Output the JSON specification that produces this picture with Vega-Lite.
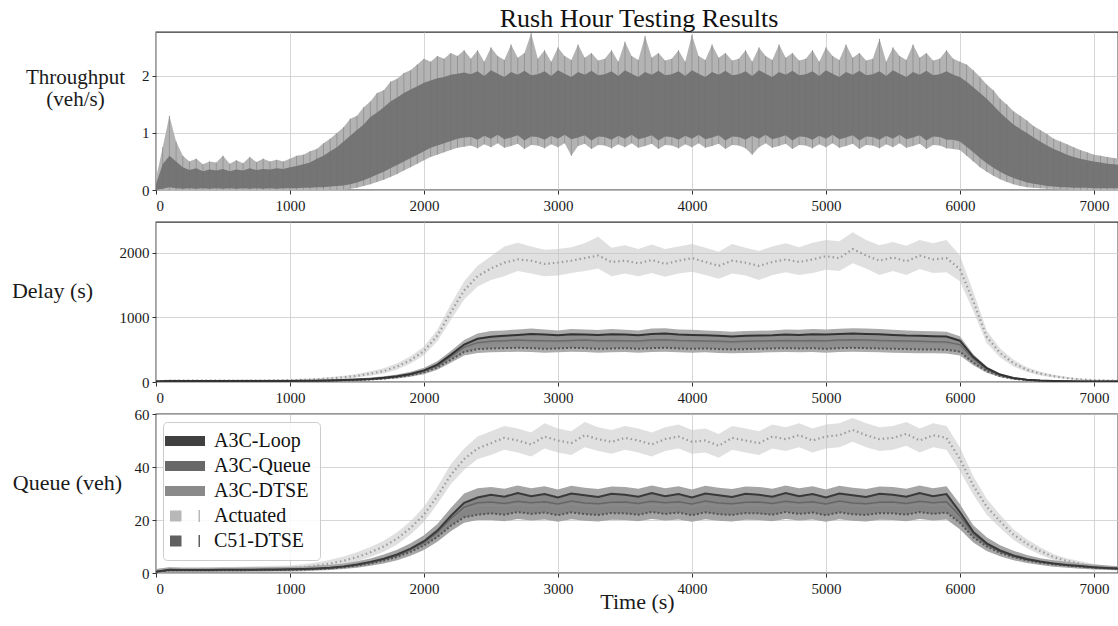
{
  "$schema": "https://vega.github.io/schema/vega-lite/v6.json",
  "padding": {"left": 10, "top": 6, "right": 0, "bottom": 5},
  "title": {"text": "Rush Hour Testing Results", "font": "Liberation Serif", "fontSize": 26, "fontWeight": "normal", "color": "#111111", "anchor": "middle", "frame": "group", "offset": -1, "dx": 2},
  "bounds": "flush",
  "spacing": 32,
  "datasets": {
    "thr": [
      {"t":0,"a":0,"b":0,"c":0.1,"d":0.2},
      {"t":50,"a":0,"b":0.02,"c":0.45,"d":0.75},
      {"t":100,"a":0,"b":0.05,"c":0.6,"d":1.3},
      {"t":150,"a":0,"b":0.03,"c":0.5,"d":0.85},
      {"t":200,"a":0,"b":0.02,"c":0.4,"d":0.6},
      {"t":250,"a":0,"b":0.03,"c":0.35,"d":0.5},
      {"t":300,"a":0,"b":0.02,"c":0.38,"d":0.55},
      {"t":350,"a":0,"b":0.03,"c":0.33,"d":0.45},
      {"t":400,"a":0,"b":0.02,"c":0.36,"d":0.5},
      {"t":450,"a":0,"b":0.03,"c":0.34,"d":0.48},
      {"t":500,"a":0,"b":0.02,"c":0.37,"d":0.6},
      {"t":550,"a":0,"b":0.03,"c":0.33,"d":0.46},
      {"t":600,"a":0,"b":0.02,"c":0.36,"d":0.52},
      {"t":650,"a":0,"b":0.03,"c":0.34,"d":0.47},
      {"t":700,"a":0,"b":0.02,"c":0.38,"d":0.58},
      {"t":750,"a":0,"b":0.03,"c":0.35,"d":0.49},
      {"t":800,"a":0,"b":0.02,"c":0.37,"d":0.55},
      {"t":850,"a":0,"b":0.03,"c":0.36,"d":0.5},
      {"t":900,"a":0,"b":0.02,"c":0.38,"d":0.53},
      {"t":950,"a":0,"b":0.03,"c":0.37,"d":0.5},
      {"t":1000,"a":0,"b":0.03,"c":0.4,"d":0.55},
      {"t":1050,"a":0,"b":0.03,"c":0.42,"d":0.6},
      {"t":1100,"a":0,"b":0.04,"c":0.45,"d":0.62},
      {"t":1150,"a":0,"b":0.04,"c":0.48,"d":0.68},
      {"t":1200,"a":0,"b":0.05,"c":0.55,"d":0.72},
      {"t":1250,"a":0,"b":0.05,"c":0.6,"d":0.82},
      {"t":1300,"a":0,"b":0.06,"c":0.68,"d":0.9},
      {"t":1350,"a":0,"b":0.07,"c":0.75,"d":1.0},
      {"t":1400,"a":0,"b":0.08,"c":0.85,"d":1.1},
      {"t":1450,"a":0.02,"b":0.1,"c":0.95,"d":1.25},
      {"t":1500,"a":0.04,"b":0.13,"c":1.05,"d":1.3},
      {"t":1550,"a":0.07,"b":0.17,"c":1.15,"d":1.45},
      {"t":1600,"a":0.1,"b":0.22,"c":1.28,"d":1.55},
      {"t":1650,"a":0.14,"b":0.27,"c":1.36,"d":1.7},
      {"t":1700,"a":0.18,"b":0.32,"c":1.45,"d":1.75},
      {"t":1750,"a":0.23,"b":0.38,"c":1.55,"d":1.9},
      {"t":1800,"a":0.28,"b":0.44,"c":1.62,"d":1.95},
      {"t":1850,"a":0.34,"b":0.5,"c":1.7,"d":2.05},
      {"t":1900,"a":0.4,"b":0.56,"c":1.76,"d":2.1},
      {"t":1950,"a":0.46,"b":0.62,"c":1.82,"d":2.2},
      {"t":2000,"a":0.52,"b":0.68,"c":1.88,"d":2.3},
      {"t":2050,"a":0.58,"b":0.74,"c":1.92,"d":2.25},
      {"t":2100,"a":0.62,"b":0.78,"c":1.96,"d":2.35},
      {"t":2150,"a":0.66,"b":0.82,"c":1.98,"d":2.3},
      {"t":2200,"a":0.7,"b":0.86,"c":2.02,"d":2.4},
      {"t":2250,"a":0.74,"b":0.9,"c":2.04,"d":2.35},
      {"t":2300,"a":0.76,"b":0.92,"c":2.06,"d":2.45},
      {"t":2350,"a":0.78,"b":0.93,"c":2.03,"d":2.3},
      {"t":2400,"a":0.73,"b":0.88,"c":2.08,"d":2.45},
      {"t":2450,"a":0.8,"b":0.95,"c":2.0,"d":2.25},
      {"t":2500,"a":0.75,"b":0.9,"c":2.1,"d":2.5},
      {"t":2550,"a":0.82,"b":0.97,"c":2.04,"d":2.35},
      {"t":2600,"a":0.74,"b":0.89,"c":1.98,"d":2.28},
      {"t":2650,"a":0.77,"b":0.92,"c":2.07,"d":2.55},
      {"t":2700,"a":0.81,"b":0.96,"c":2.02,"d":2.32},
      {"t":2750,"a":0.72,"b":0.87,"c":2.09,"d":2.4},
      {"t":2800,"a":0.79,"b":0.94,"c":2.01,"d":2.75},
      {"t":2850,"a":0.78,"b":0.93,"c":2.03,"d":2.3},
      {"t":2900,"a":0.73,"b":0.88,"c":2.08,"d":2.45},
      {"t":2950,"a":0.8,"b":0.95,"c":2.0,"d":2.25},
      {"t":3000,"a":0.75,"b":0.9,"c":2.1,"d":2.5},
      {"t":3050,"a":0.82,"b":0.97,"c":2.04,"d":2.35},
      {"t":3100,"a":0.6,"b":0.89,"c":1.98,"d":2.28},
      {"t":3150,"a":0.77,"b":0.92,"c":2.07,"d":2.55},
      {"t":3200,"a":0.81,"b":0.96,"c":2.02,"d":2.32},
      {"t":3250,"a":0.72,"b":0.87,"c":2.09,"d":2.4},
      {"t":3300,"a":0.79,"b":0.94,"c":2.01,"d":2.27},
      {"t":3350,"a":0.78,"b":0.93,"c":2.03,"d":2.3},
      {"t":3400,"a":0.73,"b":0.88,"c":2.08,"d":2.45},
      {"t":3450,"a":0.8,"b":0.95,"c":2.0,"d":2.25},
      {"t":3500,"a":0.75,"b":0.9,"c":2.1,"d":2.6},
      {"t":3550,"a":0.82,"b":0.97,"c":2.04,"d":2.35},
      {"t":3600,"a":0.74,"b":0.89,"c":1.98,"d":2.28},
      {"t":3650,"a":0.77,"b":0.92,"c":2.07,"d":2.7},
      {"t":3700,"a":0.81,"b":0.96,"c":2.02,"d":2.32},
      {"t":3750,"a":0.72,"b":0.87,"c":2.09,"d":2.4},
      {"t":3800,"a":0.79,"b":0.94,"c":2.01,"d":2.27},
      {"t":3850,"a":0.78,"b":0.93,"c":2.03,"d":2.3},
      {"t":3900,"a":0.73,"b":0.88,"c":2.08,"d":2.45},
      {"t":3950,"a":0.8,"b":0.95,"c":2.0,"d":2.25},
      {"t":4000,"a":0.75,"b":0.9,"c":2.1,"d":2.72},
      {"t":4050,"a":0.82,"b":0.97,"c":2.04,"d":2.35},
      {"t":4100,"a":0.74,"b":0.89,"c":1.98,"d":2.28},
      {"t":4150,"a":0.77,"b":0.92,"c":2.07,"d":2.55},
      {"t":4200,"a":0.81,"b":0.96,"c":2.02,"d":2.32},
      {"t":4250,"a":0.72,"b":0.87,"c":2.09,"d":2.4},
      {"t":4300,"a":0.79,"b":0.94,"c":2.01,"d":2.27},
      {"t":4350,"a":0.78,"b":0.93,"c":2.03,"d":2.3},
      {"t":4400,"a":0.73,"b":0.88,"c":2.08,"d":2.45},
      {"t":4450,"a":0.62,"b":0.95,"c":2.0,"d":2.25},
      {"t":4500,"a":0.75,"b":0.9,"c":2.1,"d":2.5},
      {"t":4550,"a":0.82,"b":0.97,"c":2.04,"d":2.35},
      {"t":4600,"a":0.74,"b":0.89,"c":1.98,"d":2.28},
      {"t":4650,"a":0.77,"b":0.92,"c":2.07,"d":2.55},
      {"t":4700,"a":0.81,"b":0.96,"c":2.02,"d":2.32},
      {"t":4750,"a":0.72,"b":0.87,"c":2.09,"d":2.4},
      {"t":4800,"a":0.79,"b":0.94,"c":2.01,"d":2.27},
      {"t":4850,"a":0.78,"b":0.93,"c":2.03,"d":2.3},
      {"t":4900,"a":0.73,"b":0.88,"c":2.08,"d":2.45},
      {"t":4950,"a":0.8,"b":0.95,"c":2.0,"d":2.25},
      {"t":5000,"a":0.75,"b":0.9,"c":2.1,"d":2.5},
      {"t":5050,"a":0.82,"b":0.97,"c":2.04,"d":2.35},
      {"t":5100,"a":0.74,"b":0.89,"c":1.98,"d":2.28},
      {"t":5150,"a":0.77,"b":0.92,"c":2.07,"d":2.55},
      {"t":5200,"a":0.81,"b":0.96,"c":2.02,"d":2.32},
      {"t":5250,"a":0.72,"b":0.87,"c":2.09,"d":2.4},
      {"t":5300,"a":0.79,"b":0.94,"c":2.01,"d":2.27},
      {"t":5350,"a":0.78,"b":0.93,"c":2.03,"d":2.3},
      {"t":5400,"a":0.73,"b":0.88,"c":2.08,"d":2.65},
      {"t":5450,"a":0.8,"b":0.95,"c":2.0,"d":2.25},
      {"t":5500,"a":0.75,"b":0.9,"c":2.1,"d":2.5},
      {"t":5550,"a":0.82,"b":0.97,"c":2.04,"d":2.35},
      {"t":5600,"a":0.74,"b":0.89,"c":1.98,"d":2.28},
      {"t":5650,"a":0.77,"b":0.92,"c":2.07,"d":2.55},
      {"t":5700,"a":0.81,"b":0.96,"c":2.02,"d":2.32},
      {"t":5750,"a":0.72,"b":0.87,"c":2.09,"d":2.4},
      {"t":5800,"a":0.79,"b":0.94,"c":2.01,"d":2.27},
      {"t":5850,"a":0.78,"b":0.93,"c":2.03,"d":2.3},
      {"t":5900,"a":0.73,"b":0.88,"c":2.08,"d":2.45},
      {"t":5950,"a":0.72,"b":0.88,"c":2.02,"d":2.3},
      {"t":6000,"a":0.7,"b":0.85,"c":1.98,"d":2.25},
      {"t":6050,"a":0.6,"b":0.76,"c":1.9,"d":2.2},
      {"t":6100,"a":0.5,"b":0.66,"c":1.8,"d":2.1},
      {"t":6150,"a":0.4,"b":0.56,"c":1.7,"d":1.98},
      {"t":6200,"a":0.32,"b":0.47,"c":1.6,"d":1.85},
      {"t":6250,"a":0.25,"b":0.39,"c":1.48,"d":1.75},
      {"t":6300,"a":0.19,"b":0.32,"c":1.36,"d":1.6},
      {"t":6350,"a":0.14,"b":0.26,"c":1.25,"d":1.5},
      {"t":6400,"a":0.1,"b":0.21,"c":1.15,"d":1.38},
      {"t":6450,"a":0.07,"b":0.17,"c":1.07,"d":1.3},
      {"t":6500,"a":0.05,"b":0.13,"c":1.0,"d":1.22},
      {"t":6550,"a":0.04,"b":0.11,"c":0.92,"d":1.12},
      {"t":6600,"a":0.03,"b":0.09,"c":0.85,"d":1.05},
      {"t":6650,"a":0.02,"b":0.07,"c":0.78,"d":0.98},
      {"t":6700,"a":0.02,"b":0.06,"c":0.72,"d":0.9},
      {"t":6750,"a":0.01,"b":0.05,"c":0.67,"d":0.85},
      {"t":6800,"a":0.01,"b":0.05,"c":0.62,"d":0.8},
      {"t":6850,"a":0,"b":0.04,"c":0.58,"d":0.75},
      {"t":6900,"a":0,"b":0.04,"c":0.55,"d":0.7},
      {"t":6950,"a":0,"b":0.04,"c":0.52,"d":0.66},
      {"t":7000,"a":0,"b":0.03,"c":0.5,"d":0.62},
      {"t":7050,"a":0,"b":0.03,"c":0.48,"d":0.6},
      {"t":7100,"a":0,"b":0.03,"c":0.46,"d":0.58},
      {"t":7150,"a":0,"b":0.03,"c":0.45,"d":0.56},
      {"t":7200,"a":0,"b":0.03,"c":0.44,"d":0.55}
    ],
    "del": [
      {"t":0,"A":10,"Al":0,"Ah":25,"L":8,"Q":8,"D":8,"C":6,"gl":0,"gh":20},
      {"t":100,"A":20,"Al":8,"Ah":35,"L":15,"Q":15,"D":14,"C":13,"gl":5,"gh":28},
      {"t":200,"A":20,"Al":8,"Ah":35,"L":15,"Q":14,"D":14,"C":13,"gl":5,"gh":28},
      {"t":300,"A":20,"Al":8,"Ah":35,"L":14,"Q":14,"D":13,"C":12,"gl":5,"gh":27},
      {"t":400,"A":20,"Al":8,"Ah":35,"L":14,"Q":13,"D":13,"C":12,"gl":5,"gh":26},
      {"t":500,"A":20,"Al":8,"Ah":35,"L":14,"Q":14,"D":13,"C":12,"gl":5,"gh":26},
      {"t":600,"A":21,"Al":9,"Ah":36,"L":14,"Q":14,"D":13,"C":12,"gl":5,"gh":26},
      {"t":700,"A":22,"Al":10,"Ah":38,"L":15,"Q":14,"D":14,"C":13,"gl":5,"gh":27},
      {"t":800,"A":23,"Al":10,"Ah":40,"L":15,"Q":15,"D":14,"C":13,"gl":6,"gh":28},
      {"t":900,"A":25,"Al":12,"Ah":42,"L":16,"Q":15,"D":15,"C":14,"gl":6,"gh":29},
      {"t":1000,"A":28,"Al":14,"Ah":45,"L":17,"Q":16,"D":16,"C":15,"gl":7,"gh":30},
      {"t":1100,"A":33,"Al":18,"Ah":50,"L":18,"Q":17,"D":17,"C":16,"gl":8,"gh":32},
      {"t":1200,"A":42,"Al":25,"Ah":60,"L":21,"Q":20,"D":19,"C":18,"gl":10,"gh":35},
      {"t":1300,"A":55,"Al":35,"Ah":78,"L":25,"Q":23,"D":22,"C":21,"gl":12,"gh":40},
      {"t":1400,"A":72,"Al":48,"Ah":98,"L":30,"Q":28,"D":27,"C":25,"gl":15,"gh":46},
      {"t":1500,"A":95,"Al":68,"Ah":125,"L":37,"Q":35,"D":33,"C":31,"gl":20,"gh":55},
      {"t":1600,"A":130,"Al":98,"Ah":165,"L":48,"Q":45,"D":43,"C":40,"gl":27,"gh":68},
      {"t":1700,"A":170,"Al":132,"Ah":212,"L":65,"Q":60,"D":58,"C":54,"gl":38,"gh":88},
      {"t":1800,"A":240,"Al":195,"Ah":290,"L":90,"Q":84,"D":80,"C":75,"gl":55,"gh":118},
      {"t":1900,"A":340,"Al":285,"Ah":400,"L":125,"Q":118,"D":112,"C":105,"gl":80,"gh":160},
      {"t":2000,"A":480,"Al":415,"Ah":550,"L":180,"Q":170,"D":162,"C":150,"gl":120,"gh":220},
      {"t":2100,"A":720,"Al":630,"Ah":810,"L":270,"Q":255,"D":245,"C":225,"gl":190,"gh":320},
      {"t":2200,"A":1080,"Al":960,"Ah":1200,"L":420,"Q":395,"D":380,"C":345,"gl":300,"gh":480},
      {"t":2300,"A":1420,"Al":1280,"Ah":1560,"L":580,"Q":540,"D":520,"C":465,"gl":410,"gh":650},
      {"t":2400,"A":1640,"Al":1480,"Ah":1800,"L":670,"Q":610,"D":590,"C":510,"gl":450,"gh":750},
      {"t":2500,"A":1760,"Al":1580,"Ah":1950,"L":700,"Q":630,"D":605,"C":520,"gl":460,"gh":790},
      {"t":2600,"A":1850,"Al":1640,"Ah":2100,"L":715,"Q":640,"D":615,"C":525,"gl":465,"gh":800},
      {"t":2700,"A":1900,"Al":1720,"Ah":2160,"L":730,"Q":650,"D":620,"C":530,"gl":470,"gh":815},
      {"t":2800,"A":1880,"Al":1680,"Ah":2100,"L":745,"Q":645,"D":625,"C":525,"gl":465,"gh":830},
      {"t":2900,"A":1830,"Al":1640,"Ah":2050,"L":735,"Q":640,"D":615,"C":515,"gl":455,"gh":815},
      {"t":3000,"A":1850,"Al":1650,"Ah":2060,"L":725,"Q":635,"D":610,"C":520,"gl":460,"gh":800},
      {"t":3100,"A":1880,"Al":1690,"Ah":2090,"L":740,"Q":645,"D":620,"C":530,"gl":470,"gh":820},
      {"t":3200,"A":1920,"Al":1720,"Ah":2150,"L":735,"Q":650,"D":625,"C":525,"gl":465,"gh":815},
      {"t":3300,"A":1960,"Al":1760,"Ah":2250,"L":730,"Q":640,"D":615,"C":515,"gl":455,"gh":805},
      {"t":3400,"A":1860,"Al":1640,"Ah":2080,"L":740,"Q":645,"D":620,"C":520,"gl":460,"gh":820},
      {"t":3500,"A":1880,"Al":1680,"Ah":2120,"L":735,"Q":640,"D":615,"C":525,"gl":465,"gh":810},
      {"t":3600,"A":1840,"Al":1640,"Ah":2060,"L":725,"Q":635,"D":610,"C":515,"gl":455,"gh":800},
      {"t":3700,"A":1890,"Al":1690,"Ah":2130,"L":745,"Q":650,"D":625,"C":525,"gl":465,"gh":830},
      {"t":3800,"A":1830,"Al":1630,"Ah":2060,"L":750,"Q":655,"D":630,"C":530,"gl":470,"gh":835},
      {"t":3900,"A":1880,"Al":1680,"Ah":2100,"L":735,"Q":645,"D":620,"C":520,"gl":460,"gh":815},
      {"t":4000,"A":1920,"Al":1710,"Ah":2140,"L":730,"Q":640,"D":615,"C":515,"gl":455,"gh":810},
      {"t":4100,"A":1860,"Al":1660,"Ah":2080,"L":725,"Q":635,"D":610,"C":520,"gl":460,"gh":800},
      {"t":4200,"A":1800,"Al":1600,"Ah":2020,"L":715,"Q":630,"D":605,"C":510,"gl":450,"gh":790},
      {"t":4300,"A":1880,"Al":1680,"Ah":2140,"L":705,"Q":625,"D":600,"C":505,"gl":445,"gh":780},
      {"t":4400,"A":1850,"Al":1650,"Ah":2080,"L":715,"Q":630,"D":605,"C":510,"gl":450,"gh":790},
      {"t":4500,"A":1800,"Al":1580,"Ah":2030,"L":720,"Q":635,"D":610,"C":515,"gl":455,"gh":795},
      {"t":4600,"A":1860,"Al":1660,"Ah":2100,"L":725,"Q":640,"D":615,"C":520,"gl":460,"gh":800},
      {"t":4700,"A":1900,"Al":1700,"Ah":2150,"L":735,"Q":645,"D":620,"C":525,"gl":465,"gh":815},
      {"t":4800,"A":1860,"Al":1660,"Ah":2090,"L":730,"Q":640,"D":615,"C":520,"gl":460,"gh":810},
      {"t":4900,"A":1900,"Al":1690,"Ah":2160,"L":740,"Q":645,"D":620,"C":525,"gl":465,"gh":820},
      {"t":5000,"A":1950,"Al":1740,"Ah":2200,"L":735,"Q":640,"D":615,"C":515,"gl":455,"gh":815},
      {"t":5100,"A":1920,"Al":1720,"Ah":2180,"L":745,"Q":650,"D":625,"C":525,"gl":465,"gh":825},
      {"t":5200,"A":2060,"Al":1840,"Ah":2320,"L":750,"Q":655,"D":630,"C":530,"gl":470,"gh":835},
      {"t":5300,"A":1960,"Al":1760,"Ah":2200,"L":745,"Q":650,"D":625,"C":525,"gl":465,"gh":830},
      {"t":5400,"A":1880,"Al":1660,"Ah":2120,"L":740,"Q":645,"D":620,"C":520,"gl":460,"gh":820},
      {"t":5500,"A":1930,"Al":1720,"Ah":2170,"L":730,"Q":640,"D":615,"C":515,"gl":455,"gh":810},
      {"t":5600,"A":1870,"Al":1660,"Ah":2110,"L":720,"Q":635,"D":610,"C":510,"gl":450,"gh":800},
      {"t":5700,"A":1960,"Al":1750,"Ah":2200,"L":715,"Q":630,"D":605,"C":505,"gl":445,"gh":790},
      {"t":5800,"A":1900,"Al":1690,"Ah":2150,"L":710,"Q":625,"D":600,"C":505,"gl":445,"gh":785},
      {"t":5900,"A":1920,"Al":1700,"Ah":2200,"L":705,"Q":620,"D":595,"C":500,"gl":440,"gh":780},
      {"t":6000,"A":1750,"Al":1560,"Ah":1960,"L":640,"Q":580,"D":560,"C":470,"gl":410,"gh":710},
      {"t":6100,"A":1250,"Al":1100,"Ah":1400,"L":390,"Q":360,"D":350,"C":300,"gl":260,"gh":430},
      {"t":6200,"A":700,"Al":600,"Ah":800,"L":215,"Q":200,"D":195,"C":170,"gl":145,"gh":240},
      {"t":6300,"A":450,"Al":380,"Ah":520,"L":115,"Q":108,"D":104,"C":92,"gl":75,"gh":130},
      {"t":6400,"A":290,"Al":240,"Ah":345,"L":62,"Q":58,"D":56,"C":50,"gl":40,"gh":72},
      {"t":6500,"A":190,"Al":155,"Ah":230,"L":36,"Q":34,"D":33,"C":30,"gl":22,"gh":44},
      {"t":6600,"A":130,"Al":102,"Ah":160,"L":22,"Q":21,"D":20,"C":18,"gl":12,"gh":28},
      {"t":6700,"A":90,"Al":70,"Ah":112,"L":15,"Q":14,"D":14,"C":13,"gl":8,"gh":20},
      {"t":6800,"A":60,"Al":45,"Ah":78,"L":11,"Q":11,"D":10,"C":10,"gl":5,"gh":16},
      {"t":6900,"A":40,"Al":28,"Ah":55,"L":9,"Q":9,"D":9,"C":8,"gl":4,"gh":14},
      {"t":7000,"A":28,"Al":18,"Ah":40,"L":8,"Q":8,"D":8,"C":7,"gl":3,"gh":13},
      {"t":7100,"A":22,"Al":12,"Ah":34,"L":8,"Q":7,"D":7,"C":7,"gl":3,"gh":12},
      {"t":7200,"A":20,"Al":10,"Ah":32,"L":7,"Q":7,"D":7,"C":6,"gl":2,"gh":12}
    ],
    "que": [
      {"t":0,"A":0.5,"Al":0,"Ah":1.5,"L":0.5,"Q":0.5,"D":0.5,"C":0.5,"gl":0,"gh":1.5},
      {"t":100,"A":1.2,"Al":0.5,"Ah":2.2,"L":1.2,"Q":1.1,"D":1.1,"C":1,"gl":0.4,"gh":2.2},
      {"t":200,"A":1.2,"Al":0.5,"Ah":2.2,"L":1.1,"Q":1.1,"D":1,"C":1,"gl":0.4,"gh":2},
      {"t":300,"A":1.2,"Al":0.5,"Ah":2.2,"L":1.1,"Q":1,"D":1,"C":1,"gl":0.4,"gh":2},
      {"t":400,"A":1.3,"Al":0.5,"Ah":2.3,"L":1.1,"Q":1.1,"D":1,"C":1,"gl":0.4,"gh":2},
      {"t":500,"A":1.3,"Al":0.6,"Ah":2.3,"L":1.2,"Q":1.1,"D":1.1,"C":1,"gl":0.5,"gh":2.1},
      {"t":600,"A":1.4,"Al":0.6,"Ah":2.4,"L":1.2,"Q":1.1,"D":1.1,"C":1,"gl":0.5,"gh":2.1},
      {"t":700,"A":1.4,"Al":0.7,"Ah":2.5,"L":1.2,"Q":1.2,"D":1.1,"C":1.1,"gl":0.5,"gh":2.2},
      {"t":800,"A":1.5,"Al":0.8,"Ah":2.6,"L":1.3,"Q":1.2,"D":1.2,"C":1.1,"gl":0.5,"gh":2.2},
      {"t":900,"A":1.6,"Al":0.9,"Ah":2.7,"L":1.3,"Q":1.2,"D":1.2,"C":1.1,"gl":0.6,"gh":2.3},
      {"t":1000,"A":1.8,"Al":1,"Ah":2.8,"L":1.4,"Q":1.3,"D":1.3,"C":1.2,"gl":0.6,"gh":2.4},
      {"t":1100,"A":2.2,"Al":1.3,"Ah":3.3,"L":1.5,"Q":1.4,"D":1.4,"C":1.3,"gl":0.7,"gh":2.5},
      {"t":1200,"A":2.8,"Al":1.8,"Ah":4,"L":1.7,"Q":1.6,"D":1.6,"C":1.5,"gl":0.9,"gh":2.8},
      {"t":1300,"A":3.6,"Al":2.5,"Ah":5,"L":2,"Q":1.9,"D":1.8,"C":1.7,"gl":1.1,"gh":3.1},
      {"t":1400,"A":4.6,"Al":3.3,"Ah":6.2,"L":2.5,"Q":2.4,"D":2.3,"C":2.2,"gl":1.5,"gh":3.6},
      {"t":1500,"A":6,"Al":4.5,"Ah":7.8,"L":3.2,"Q":3,"D":2.9,"C":2.8,"gl":2,"gh":4.4},
      {"t":1600,"A":7.8,"Al":6,"Ah":9.8,"L":4.2,"Q":4,"D":3.8,"C":3.6,"gl":2.7,"gh":5.5},
      {"t":1700,"A":10,"Al":8,"Ah":12.2,"L":5.4,"Q":5.2,"D":5,"C":4.7,"gl":3.6,"gh":7},
      {"t":1800,"A":13,"Al":10.8,"Ah":15.4,"L":7,"Q":6.7,"D":6.5,"C":6.1,"gl":4.8,"gh":8.8},
      {"t":1900,"A":17,"Al":14.5,"Ah":19.5,"L":9.2,"Q":8.8,"D":8.5,"C":8,"gl":6.5,"gh":11.2},
      {"t":2000,"A":22,"Al":19.2,"Ah":25,"L":12,"Q":11.5,"D":11.1,"C":10.4,"gl":8.7,"gh":14.2},
      {"t":2100,"A":29,"Al":26,"Ah":32.5,"L":16,"Q":15.3,"D":14.8,"C":13.6,"gl":11.8,"gh":18.5},
      {"t":2200,"A":37,"Al":33.5,"Ah":41,"L":21.5,"Q":20.5,"D":19.8,"C":17.8,"gl":15.8,"gh":24.5},
      {"t":2300,"A":43,"Al":39,"Ah":47,"L":26.5,"Q":24.8,"D":24,"C":21,"gl":19,"gh":30},
      {"t":2400,"A":47,"Al":43,"Ah":51.5,"L":28.5,"Q":26.5,"D":25.5,"C":22,"gl":20,"gh":32},
      {"t":2500,"A":49,"Al":44.5,"Ah":53.5,"L":29.5,"Q":26.8,"D":25.6,"C":22.5,"gl":20,"gh":32.5},
      {"t":2600,"A":51,"Al":46.5,"Ah":55.5,"L":28.8,"Q":26.2,"D":25.2,"C":22,"gl":19.5,"gh":31.8},
      {"t":2700,"A":50,"Al":45.5,"Ah":54.5,"L":30.2,"Q":27.1,"D":25.9,"C":23,"gl":20.4,"gh":33},
      {"t":2800,"A":48.5,"Al":44,"Ah":53,"L":29,"Q":26.5,"D":25.4,"C":22.3,"gl":19.8,"gh":32},
      {"t":2900,"A":51.5,"Al":47,"Ah":56.5,"L":29.8,"Q":26.9,"D":25.8,"C":22.8,"gl":20.2,"gh":32.7},
      {"t":3000,"A":50,"Al":45.5,"Ah":54.5,"L":28.5,"Q":26,"D":25,"C":21.8,"gl":19.3,"gh":31.5},
      {"t":3100,"A":49,"Al":44.5,"Ah":53.5,"L":30,"Q":27.2,"D":26,"C":22.9,"gl":20.3,"gh":32.9},
      {"t":3200,"A":52,"Al":47.5,"Ah":57,"L":29.3,"Q":26.4,"D":25.3,"C":22.2,"gl":19.7,"gh":32.2},
      {"t":3300,"A":50.5,"Al":46,"Ah":55,"L":28.7,"Q":26.1,"D":25.1,"C":21.9,"gl":19.4,"gh":31.7},
      {"t":3400,"A":49.5,"Al":45,"Ah":54,"L":29.9,"Q":26.7,"D":25.7,"C":22.6,"gl":20.1,"gh":32.6},
      {"t":3500,"A":51,"Al":46.5,"Ah":55.5,"L":29.5,"Q":26.8,"D":25.6,"C":22.5,"gl":20,"gh":32.5},
      {"t":3600,"A":50,"Al":45.5,"Ah":54.5,"L":28.8,"Q":26.2,"D":25.2,"C":22,"gl":19.5,"gh":31.8},
      {"t":3700,"A":48.5,"Al":44,"Ah":53,"L":30.2,"Q":27.1,"D":25.9,"C":23,"gl":20.4,"gh":33},
      {"t":3800,"A":50.5,"Al":46,"Ah":55,"L":29,"Q":26.5,"D":25.4,"C":22.3,"gl":19.8,"gh":32},
      {"t":3900,"A":51.5,"Al":47,"Ah":56,"L":29.8,"Q":26.9,"D":25.8,"C":22.8,"gl":20.2,"gh":32.7},
      {"t":4000,"A":49.5,"Al":45,"Ah":54,"L":28.5,"Q":26,"D":25,"C":21.8,"gl":19.3,"gh":31.5},
      {"t":4100,"A":50,"Al":45.5,"Ah":54.5,"L":30,"Q":27.2,"D":26,"C":22.9,"gl":20.3,"gh":32.9},
      {"t":4200,"A":48,"Al":43.5,"Ah":52.5,"L":29.3,"Q":26.4,"D":25.3,"C":22.2,"gl":19.7,"gh":32.2},
      {"t":4300,"A":51,"Al":46.5,"Ah":55.5,"L":28.7,"Q":26.1,"D":25.1,"C":21.9,"gl":19.4,"gh":31.7},
      {"t":4400,"A":50,"Al":45.5,"Ah":54.5,"L":29.9,"Q":26.7,"D":25.7,"C":22.6,"gl":20.1,"gh":32.6},
      {"t":4500,"A":49,"Al":44.5,"Ah":53.5,"L":29.5,"Q":26.8,"D":25.6,"C":22.5,"gl":20,"gh":32.5},
      {"t":4600,"A":51.5,"Al":47,"Ah":56,"L":28.8,"Q":26.2,"D":25.2,"C":22,"gl":19.5,"gh":31.8},
      {"t":4700,"A":50.5,"Al":46,"Ah":55,"L":30.2,"Q":27.1,"D":25.9,"C":23,"gl":20.4,"gh":33},
      {"t":4800,"A":52,"Al":47.5,"Ah":56.5,"L":29,"Q":26.5,"D":25.4,"C":22.3,"gl":19.8,"gh":32},
      {"t":4900,"A":50,"Al":45.5,"Ah":54.5,"L":29.8,"Q":26.9,"D":25.8,"C":22.8,"gl":20.2,"gh":32.7},
      {"t":5000,"A":51.5,"Al":47,"Ah":56,"L":28.5,"Q":26,"D":25,"C":21.8,"gl":19.3,"gh":31.5},
      {"t":5100,"A":52,"Al":47.5,"Ah":56.5,"L":30,"Q":27.2,"D":26,"C":22.9,"gl":20.3,"gh":32.9},
      {"t":5200,"A":54,"Al":49.5,"Ah":58.5,"L":29.3,"Q":26.4,"D":25.3,"C":22.2,"gl":19.7,"gh":32.2},
      {"t":5300,"A":52,"Al":47.5,"Ah":56.5,"L":28.7,"Q":26.1,"D":25.1,"C":21.9,"gl":19.4,"gh":31.7},
      {"t":5400,"A":50.5,"Al":46,"Ah":55,"L":29.9,"Q":26.7,"D":25.7,"C":22.6,"gl":20.1,"gh":32.6},
      {"t":5500,"A":51,"Al":46.5,"Ah":55.5,"L":29.5,"Q":26.8,"D":25.6,"C":22.5,"gl":20,"gh":32.5},
      {"t":5600,"A":52.5,"Al":48,"Ah":57,"L":28.8,"Q":26.2,"D":25.2,"C":22,"gl":19.5,"gh":31.8},
      {"t":5700,"A":50,"Al":45.5,"Ah":54.5,"L":30.2,"Q":27.1,"D":25.9,"C":23,"gl":20.4,"gh":33},
      {"t":5800,"A":52,"Al":47.5,"Ah":56.5,"L":29,"Q":26.5,"D":25.4,"C":22.3,"gl":19.8,"gh":32},
      {"t":5900,"A":51,"Al":46.5,"Ah":55.5,"L":29.8,"Q":26.9,"D":25.8,"C":22.8,"gl":20.2,"gh":32.7},
      {"t":6000,"A":43,"Al":38.5,"Ah":47.5,"L":23,"Q":21.5,"D":21,"C":19,"gl":16.5,"gh":26},
      {"t":6100,"A":33,"Al":29.5,"Ah":36.5,"L":15.5,"Q":14.8,"D":14.5,"C":13.5,"gl":11.5,"gh":18},
      {"t":6200,"A":25,"Al":22,"Ah":28,"L":11.2,"Q":10.8,"D":10.6,"C":10,"gl":8.3,"gh":13.5},
      {"t":6300,"A":19.5,"Al":17,"Ah":22,"L":8.5,"Q":8.2,"D":8,"C":7.6,"gl":6.3,"gh":10.5},
      {"t":6400,"A":14.5,"Al":12.5,"Ah":16.5,"L":6.6,"Q":6.4,"D":6.3,"C":6,"gl":4.8,"gh":8.4},
      {"t":6500,"A":11,"Al":9.3,"Ah":12.7,"L":5.3,"Q":5.1,"D":5,"C":4.8,"gl":3.8,"gh":6.8},
      {"t":6600,"A":8.3,"Al":6.9,"Ah":9.7,"L":4.3,"Q":4.2,"D":4.1,"C":3.9,"gl":3,"gh":5.6},
      {"t":6700,"A":6,"Al":4.9,"Ah":7.1,"L":3.6,"Q":3.5,"D":3.4,"C":3.3,"gl":2.4,"gh":4.8},
      {"t":6800,"A":4.5,"Al":3.5,"Ah":5.5,"L":3,"Q":2.9,"D":2.9,"C":2.8,"gl":2,"gh":4.2},
      {"t":6900,"A":3.5,"Al":2.6,"Ah":4.4,"L":2.6,"Q":2.5,"D":2.5,"C":2.4,"gl":1.6,"gh":3.6},
      {"t":7000,"A":2.6,"Al":1.8,"Ah":3.4,"L":2.2,"Q":2.1,"D":2.1,"C":2,"gl":1.3,"gh":3.2},
      {"t":7100,"A":2,"Al":1.3,"Ah":2.8,"L":1.9,"Q":1.8,"D":1.8,"C":1.8,"gl":1.1,"gh":2.8},
      {"t":7200,"A":1.6,"Al":1,"Ah":2.3,"L":1.7,"Q":1.6,"D":1.6,"C":1.6,"gl":1,"gh":2.5}
    ],
    "leg": [
      {"s":"A3C-Loop"},{"s":"A3C-Queue"},{"s":"A3C-DTSE"},{"s":"Actuated"},{"s":"C51-DTSE"}
    ]
  },
  "vconcat": [
    {
      "width": 962, "height": 158,
      "data": {"name": "thr"},
      "encoding": {"x": {"field":"t","type":"quantitative","scale":{"domain":[0,7180],"nice":false,"zero":false},"axis":{"title":null,"format":"d","values":[0,1000,2000,3000,4000,5000,6000,7000]}}},
      "layer": [
        {"mark": {"type":"area","color":"#b3b3b3","clip":true},
         "encoding": {"y": {"field":"a","type":"quantitative","scale":{"domain":[0,2.77],"nice":false},"axis":{"title":["Throughput","(veh/s)"],"titleFontSize":21,"format":"d","values":[0,1,2],"titleX":-81,"titleY":51}},"y2":{"field":"d"}}},
        {"mark": {"type":"rule","color":"#959595","strokeWidth":1,"clip":true},
         "encoding": {"y": {"field":"a","type":"quantitative"},"y2":{"field":"d"}}},
        {"mark": {"type":"area","color":"#707070","opacity":0.93,"clip":true},
         "encoding": {"y": {"field":"b","type":"quantitative"},"y2":{"field":"c"}}}
      ]
    },
    {
      "width": 962, "height": 160,
      "data": {"name": "del"},
      "encoding": {"x": {"field":"t","type":"quantitative","scale":{"domain":[0,7180],"nice":false,"zero":false},"axis":{"title":null,"format":"d","values":[0,1000,2000,3000,4000,5000,6000,7000]}}},
      "layer": [
        {"mark": {"type":"area","color":"#c2c2c2","opacity":0.5,"clip":true},
         "encoding": {"y": {"field":"Al","type":"quantitative","scale":{"domain":[0,2480],"nice":false},"axis":{"title":"Delay (s)","format":"d","values":[0,1000,2000],"titleX":-104,"titleY":75}},"y2":{"field":"Ah"}}},
        {"mark": {"type":"line","color":"#9c9c9c","strokeWidth":2.2,"strokeDash":[1.5,3],"clip":true},
         "encoding": {"y": {"field":"A","type":"quantitative"}}},
        {"mark": {"type":"area","color":"#ababab","clip":true},
         "encoding": {"y": {"field":"gl","type":"quantitative"},"y2":{"field":"gh"}}},
        {"mark": {"type":"area","color":"#8e8e8e","clip":true},
         "encoding": {"y": {"field":"C","type":"quantitative"},"y2":{"field":"L"}}},
        {"mark": {"type":"line","color":"#8a8a8a","strokeWidth":1.5,"clip":true},
         "encoding": {"y": {"field":"D","type":"quantitative"}}},
        {"mark": {"type":"line","color":"#6a6a6a","strokeWidth":1.5,"clip":true},
         "encoding": {"y": {"field":"Q","type":"quantitative"}}},
        {"mark": {"type":"line","color":"#555555","strokeWidth":2,"strokeDash":[2,2],"clip":true},
         "encoding": {"y": {"field":"C","type":"quantitative"}}},
        {"mark": {"type":"line","color":"#333333","strokeWidth":2,"clip":true},
         "encoding": {"y": {"field":"L","type":"quantitative"}}}
      ]
    },
    {
      "width": 962, "height": 159,
      "layer": [
        {
          "data": {"name": "que"},
          "encoding": {"x": {"field":"t","type":"quantitative","scale":{"domain":[0,7180],"nice":false,"zero":false},"axis":{"title":"Time (s)","titlePadding":-5,"format":"d","values":[0,1000,2000,3000,4000,5000,6000,7000]}}},
          "layer": [
            {"mark": {"type":"area","color":"#c2c2c2","opacity":0.5,"clip":true},
             "encoding": {"y": {"field":"Al","type":"quantitative","scale":{"domain":[0,60],"nice":false},"axis":{"title":"Queue (veh)","format":"d","values":[0,20,40,60],"titleX":-89,"titleY":75}},"y2":{"field":"Ah"}}},
            {"mark": {"type":"line","color":"#9c9c9c","strokeWidth":2.2,"strokeDash":[1.5,3],"clip":true},
             "encoding": {"y": {"field":"A","type":"quantitative"}}},
            {"mark": {"type":"area","color":"#a5a5a5","clip":true},
             "encoding": {"y": {"field":"gl","type":"quantitative"},"y2":{"field":"gh"}}},
            {"mark": {"type":"area","color":"#858585","clip":true},
             "encoding": {"y": {"field":"C","type":"quantitative"},"y2":{"field":"L"}}},
            {"mark": {"type":"line","color":"#8a8a8a","strokeWidth":1.5,"clip":true},
             "encoding": {"y": {"field":"D","type":"quantitative"}}},
            {"mark": {"type":"line","color":"#666666","strokeWidth":1.5,"clip":true},
             "encoding": {"y": {"field":"Q","type":"quantitative"}}},
            {"mark": {"type":"line","color":"#555555","strokeWidth":2,"strokeDash":[2,2],"clip":true},
             "encoding": {"y": {"field":"C","type":"quantitative"}}},
            {"mark": {"type":"line","color":"#3a3a3a","strokeWidth":2,"clip":true},
             "encoding": {"y": {"field":"L","type":"quantitative"}}}
          ]
        },
        {
          "data": {"name": "leg"},
          "transform": [{"filter": "datum.s == 'none'"}],
          "mark": {"type":"point","filled":true,"opacity":1},
          "encoding": {
            "color": {"field":"s","type":"nominal","scale":{"domain":["A3C-Loop","A3C-Queue","A3C-DTSE","Actuated","C51-DTSE"],"range":["#404040","#686868","#8a8a8a","#b8b8b8","#606060"]},
              "legend":{"title":null,"orient":"none","legendX":7,"legendY":390,"symbolSize":400,"symbolOpacity":1,"symbolStrokeWidth":0,"symbolOffset":3,"labelOffset":19,"labelFontSize":20,"labelFont":"Liberation Serif","labelColor":"#111111","rowPadding":5,"padding":9,"fillColor":"rgba(255,255,255,0.85)","strokeColor":"#cccccc","cornerRadius":4}},
            "shape": {"field":"s","type":"nominal","scale":{"domain":["A3C-Loop","A3C-Queue","A3C-DTSE","Actuated","C51-DTSE"],"range":["M-2,-0.5H2V0.5H-2Z","M-2,-0.5H2V0.5H-2Z","M-2,-0.5H2V0.5H-2Z","M-1.5,-0.55H-0.35V0.55H-1.5ZM1.35,-0.6H1.5V0.6H1.35Z","M-1.5,-0.55H-0.35V0.55H-1.5ZM1.35,-0.6H1.5V0.6H1.35Z"]}}
          }
        }
      ]
    }
  ],
  "config": {
    "font": "Liberation Serif",
    "view": {"stroke": "#333333", "strokeWidth": 1.3},
    "axis": {"labelFont":"Liberation Serif","labelFontSize":15,"labelColor":"#1a1a1a","titleFont":"Liberation Serif","titleFontSize":22,"titleFontWeight":"normal","titleColor":"#1a1a1a","gridColor":"#cccccc","gridWidth":0.8,"domain":false,"tickColor":"#333333","tickSize":4,"tickWidth":1},
    "axisX": {"labelPadding":4},
    "axisY": {"labelPadding":3,"titleAngle":0,"titleAlign":"center","titleBaseline":"alphabetic","titleLineHeight":22}
  }
}
